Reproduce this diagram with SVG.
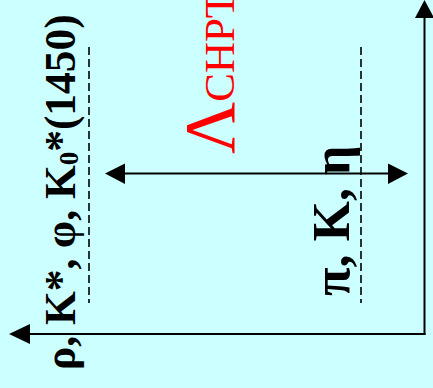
<svg xmlns="http://www.w3.org/2000/svg" width="433" height="388" viewBox="0 0 433 388">
<style>
.ax{stroke:#000;stroke-width:2;fill:none}
.dash{stroke:#000;stroke-width:1.6;stroke-dasharray:8 4;fill:none}
.t{font-family:"Liberation Serif","Times New Roman",serif;font-weight:bold;fill:#000}
.r{font-family:"Liberation Serif","Times New Roman",serif;fill:#FF0000}
</style>
<rect width="433" height="388" fill="#CCFFFF"/>
<g id="connectors">
<line class="ax" x1="424.5" y1="335" x2="424.5" y2="16"/>
<polygon points="424.5,0 415,18 434,18" fill="#000"/>
<line class="ax" x1="425.5" y1="334" x2="28" y2="334"/>
<polygon points="9,334 30,324 30,344" fill="#000"/>
<line class="ax" x1="123" y1="173.5" x2="390" y2="173.5"/>
<polygon points="105,173.5 125,163.5 125,184" fill="#000"/>
<polygon points="408,173.5 388,163.5 388,184" fill="#000"/>
<line class="dash" x1="89" y1="47" x2="89" y2="303"/>
<line class="dash" x1="361" y1="47" x2="361" y2="303"/>
</g>
<g id="heavy">
<text class="t" transform="translate(75,370) rotate(-90) scale(0.965,1)" font-size="45">ρ, K*, φ, K<tspan font-size="28" dy="3">0</tspan><tspan dy="-3">*(1450)</tspan></text>
</g>
<g id="light">
<text class="t" transform="translate(349,296) rotate(-90)" font-size="52">π, K, η</text>
</g>
<g id="scale">
<text class="r" transform="translate(234,154) rotate(-90)" font-size="72">Λ<tspan font-size="43">CHPT</tspan></text>
</g>
</svg>
